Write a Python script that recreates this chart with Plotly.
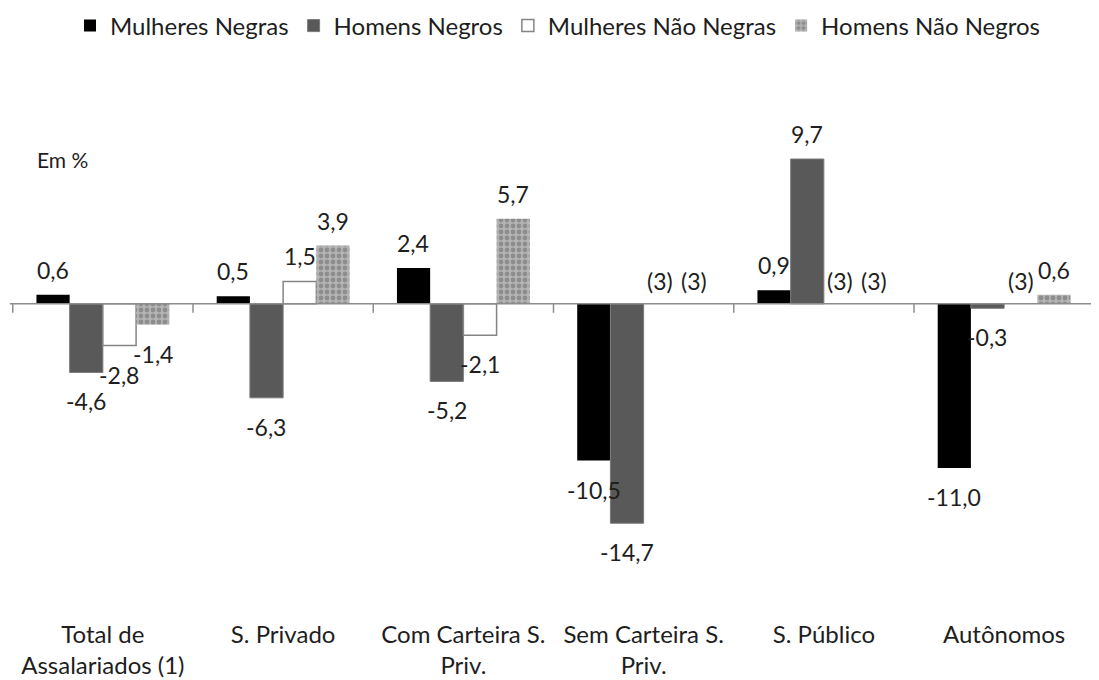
import plotly.graph_objects as go

categories = ["Total de<br>Assalariados (1)", "S. Privado", "Com Carteira S.<br>Priv.",
              "Sem Carteira S.<br>Priv.", "S. Público", "Autônomos"]
series_names = ["Mulheres Negras", "Homens Negros", "Mulheres Não Negras", "Homens Não Negros"]
mulheres_negras = [0.6, 0.5, 2.4, -10.5, 0.9, -11.0]
homens_negros = [-4.6, -6.3, -5.2, -14.7, 9.7, -0.3]
mulheres_nao_negras = [-2.8, 1.5, -2.1, None, None, None]
homens_nao_negros = [-1.4, 3.9, 5.7, None, None, 0.6]
missing_label = "(3)"
unit_label = "Em %"

values = [mulheres_negras, homens_negros, mulheres_nao_negras, homens_nao_negros]

FONT = "Lato"
TXT = "#1e1e1e"

# layout geometry (the page body adds an 8px offset)
W, H = 1091, 672
ML, MR, MT, MB = 4, 4, 101, 62
YR = [-21.05, 13.05]
BARGAP = 0.263

fig = go.Figure()
styles = [
    dict(color="#000000", line=dict(color="#000000", width=0)),
    dict(color="#595959", line=dict(color="#7a7a7a", width=1)),
    dict(color="#ffffff", line=dict(color="#858585", width=1.5)),
    dict(color="#a8a8a8", line=dict(color="#a8a8a8", width=0),
         pattern=dict(shape=".", fgcolor="#666666", bgcolor="#b4b4b4", size=6, solidity=0.5)),
]
for name, vals, st in zip(series_names, values, styles):
    fig.add_trace(go.Bar(x=categories, y=vals, name=name, marker=st))

# data labels as annotations (offset per bar within group)
plot_w = W - ML - MR
plot_h = H - MT - MB
cat_w = plot_w / len(categories)
bar_w = cat_w * (1 - BARGAP) / len(values)
annotations = []
for i, vals in enumerate(values):
    xoff = (i - (len(values) - 1) / 2) * bar_w
    for cat, v in zip(categories, vals):
        if v is None:
            txt, y, ys = missing_label, 0, 23
        else:
            txt = f"{v:.1f}".replace(".", ",")
            y = v
            ys = 25 if v >= 0 else -29
        annotations.append(dict(x=cat, y=y, xref="x", yref="y", text=txt, showarrow=False,
                                xshift=xoff, yshift=ys, yanchor="middle", xanchor="center",
                                font=dict(family=FONT, size=23, color=TXT)))

annotations.append(dict(x=(54 - ML) / plot_w, y=(H - MB - 151) / plot_h, xref="paper", yref="paper",
                        text=unit_label, showarrow=False, xanchor="center", yanchor="middle",
                        font=dict(family=FONT, size=21, color=TXT)))

# separator ticks under zero line
shapes = []
for k in range(len(categories) + 1):
    shapes.append(dict(type="line", xref="x", yref="y", x0=k - 0.5, x1=k - 0.5,
                       ysizemode="pixel", yanchor=0, y0=0, y1=-9,
                       line=dict(color="#8c8c8c", width=1.5)))
shapes.append(dict(type="line", xref="paper", yref="y", x0=-0.002, x1=1.01, y0=0, y1=0,
                   line=dict(color="#8c8c8c", width=1.5), layer="above"))

fig.update_layout(
    width=W, height=H,
    margin=dict(l=ML, r=MR, t=MT, b=MB, autoexpand=False),
    paper_bgcolor="white", plot_bgcolor="white",
    barmode="group", bargap=BARGAP, bargroupgap=0,
    font=dict(family=FONT, size=24, color=TXT),
    showlegend=True,
    legend=dict(orientation="h", xref="container", x=550 / W, xanchor="center",
                yref="container", y=1 - 18 / H, yanchor="middle",
                font=dict(family=FONT, size=24, color=TXT),
                itemwidth=30, tracegroupgap=0, traceorder="normal"),
    xaxis=dict(type="category", showgrid=False, showline=False, ticks="", zeroline=False,
               tickangle=0, tickfont=dict(family=FONT, size=24, color=TXT), automargin=False),
    yaxis=dict(range=YR, visible=False, showgrid=False, zeroline=False),
    annotations=annotations,
    shapes=shapes,
)

fig.write_html("out.html")
